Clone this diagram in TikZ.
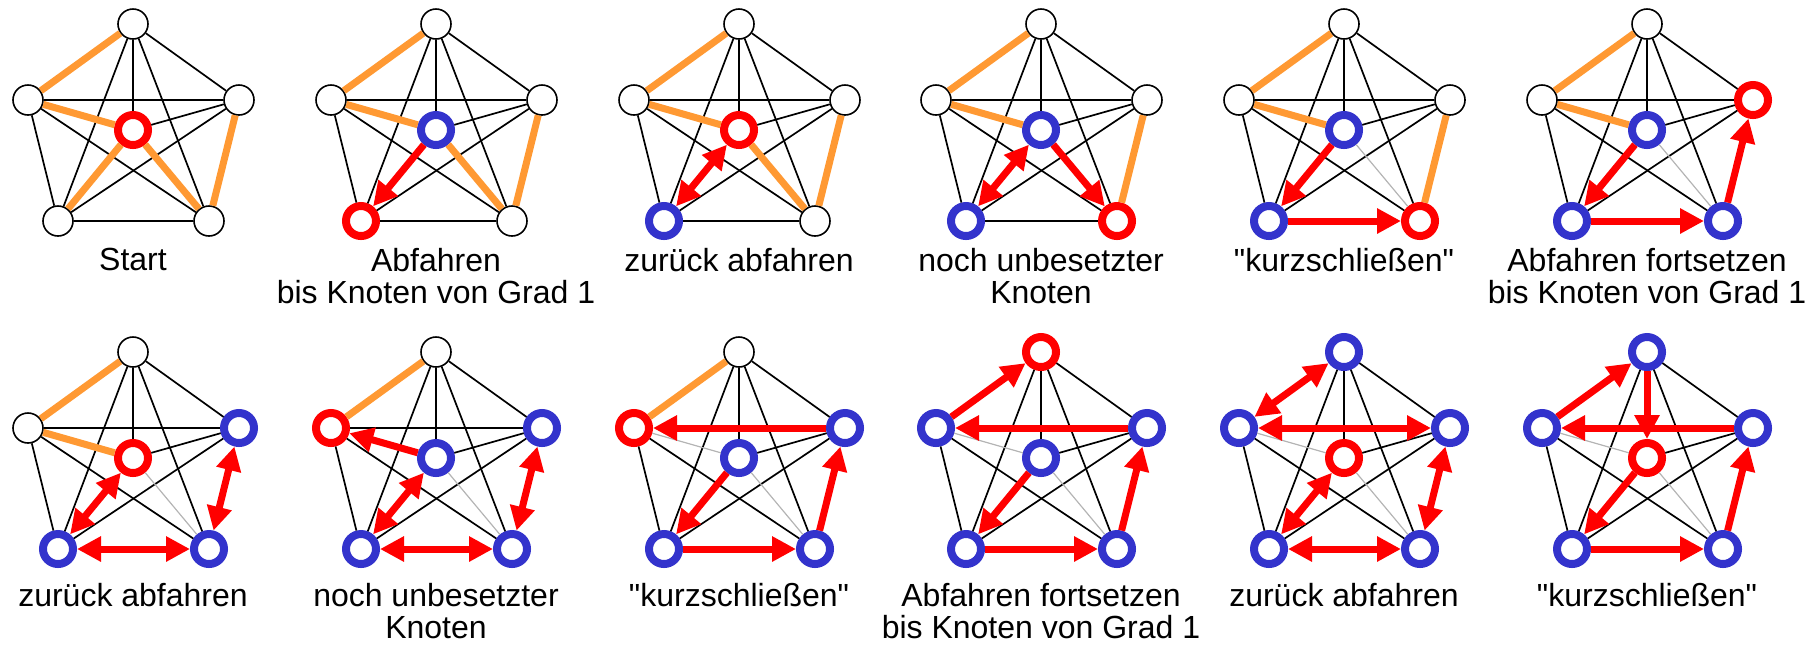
\documentclass[tikz,border=0pt]{standalone}
\usepackage{fontspec}
\setmainfont{Liberation Sans}
\usetikzlibrary{arrows.meta}
\definecolor{TreeOrange}{HTML}{FF9933}
\definecolor{SeenBlue}{HTML}{3333CC}
\definecolor{SkipGray}{HTML}{B4B4B4}

\tikzset{
  vtx/.style={circle,draw,fill=white,inner sep=0pt,minimum size=15pt,line width=0.8pt},
  fresh/.style={vtx},
  here/.style={vtx,draw=red,line width=4pt},
  seen/.style={vtx,draw=SeenBlue,line width=4pt},
  link/.style={line width=0.85pt},
  mst/.style={draw=TreeOrange,line width=3.5pt},
  shortcut/.style={draw=SkipGray,line width=0.6pt},
  walk/.style={draw=red,line width=3.5pt,-{Triangle[length=12pt,width=12pt]}},
  twoway/.style={walk,{Triangle[length=12pt,width=12pt]}-{Triangle[length=12pt,width=12pt]}},
  caption/.style={anchor=north,align=center,inner sep=0pt,font=\fontsize{16}{16}\selectfont}
}

% six vertices (top, upper left, upper right, lower left, lower right, centre)
% plus the edges that stay black in every step
\newcommand\kgraph[6]{%
  \node[#1] (t) at (0,0) {};
  \node[#2] (ul) at (-105,76) {};
  \node[#3] (ur) at (106,76) {};
  \node[#4] (ll) at (-75,197) {};
  \node[#5] (lr) at (76,197) {};
  \node[#6] (c) at (0,106) {};
  \foreach \a/\b in {t/ur,t/ll,t/lr,ul/ll,ul/lr,ur/ll,ur/c}
    \draw[link] (\a) -- (\b);
}

\begin{document}
\begin{tikzpicture}[x=0.5pt,y=-0.5pt]
\useasboundingbox (0,0) rectangle (1818,645);

% first row
\begin{scope}[shift={(133,24)},name prefix=p1-]
\kgraph{fresh}{fresh}{fresh}{fresh}{fresh}{here}
\draw[link] (t) -- (c) (ul) -- (ur) (ll) -- (lr);
\draw[mst] (t) -- (ul) (ul) -- (c) (c) -- (ll) (c) -- (lr) (ur) -- (lr);
\node[caption] (cap) at (0,224) {Start};
\end{scope}

\begin{scope}[shift={(436,24)},name prefix=p2-]
\kgraph{fresh}{fresh}{fresh}{here}{fresh}{seen}
\draw[link] (t) -- (c) (ul) -- (ur) (ll) -- (lr);
\draw[mst] (t) -- (ul) (ul) -- (c) (c) -- (lr) (ur) -- (lr);
\draw[walk] (c) -- (ll);
\node[caption] (cap) at (0,224) {Abfahren\\bis Knoten von Grad 1};
\end{scope}

\begin{scope}[shift={(739,24)},name prefix=p3-]
\kgraph{fresh}{fresh}{fresh}{seen}{fresh}{here}
\draw[link] (t) -- (c) (ul) -- (ur) (ll) -- (lr);
\draw[mst] (t) -- (ul) (ul) -- (c) (c) -- (lr) (ur) -- (lr);
\draw[twoway] (c) -- (ll);
\node[caption] (cap) at (0,224) {zurück abfahren};
\end{scope}

\begin{scope}[shift={(1041,24)},name prefix=p4-]
\kgraph{fresh}{fresh}{fresh}{seen}{here}{seen}
\draw[link] (t) -- (c) (ul) -- (ur) (ll) -- (lr);
\draw[mst] (t) -- (ul) (ul) -- (c) (ur) -- (lr);
\draw[twoway] (c) -- (ll);
\draw[walk] (c) -- (lr);
\node[caption] (cap) at (0,224) {noch unbesetzter\\Knoten};
\end{scope}

\begin{scope}[shift={(1344,24)},name prefix=p5-]
\kgraph{fresh}{fresh}{fresh}{seen}{here}{seen}
\draw[link] (t) -- (c) (ul) -- (ur);
\draw[mst] (t) -- (ul) (ul) -- (c) (ur) -- (lr);
\draw[shortcut] (c) -- (lr);
\draw[walk] (c) -- (ll);
\draw[walk] (ll) -- (lr);
\node[caption] (cap) at (0,224) {\textquotedbl kurzschließen\textquotedbl};
\end{scope}

\begin{scope}[shift={(1647,24)},name prefix=p6-]
\kgraph{fresh}{fresh}{here}{seen}{seen}{seen}
\draw[link] (t) -- (c) (ul) -- (ur);
\draw[mst] (t) -- (ul) (ul) -- (c);
\draw[shortcut] (c) -- (lr);
\draw[walk] (c) -- (ll);
\draw[walk] (ll) -- (lr);
\draw[walk] (lr) -- (ur);
\node[caption] (cap) at (0,224) {Abfahren fortsetzen\\bis Knoten von Grad 1};
\end{scope}

% second row
\begin{scope}[shift={(133,352)},name prefix=p7-]
\kgraph{fresh}{fresh}{seen}{seen}{seen}{here}
\draw[link] (t) -- (c) (ul) -- (ur);
\draw[mst] (t) -- (ul) (ul) -- (c);
\draw[shortcut] (c) -- (lr);
\draw[twoway] (c) -- (ll);
\draw[twoway] (ll) -- (lr);
\draw[twoway] (lr) -- (ur);
\node[caption] (cap) at (0,231) {zurück abfahren};
\end{scope}

\begin{scope}[shift={(436,352)},name prefix=p8-]
\kgraph{fresh}{here}{seen}{seen}{seen}{seen}
\draw[link] (t) -- (c) (ul) -- (ur);
\draw[mst] (t) -- (ul);
\draw[shortcut] (c) -- (lr);
\draw[walk] (c) -- (ul);
\draw[twoway] (c) -- (ll);
\draw[twoway] (ll) -- (lr);
\draw[twoway] (lr) -- (ur);
\node[caption] (cap) at (0,231) {noch unbesetzter\\Knoten};
\end{scope}

\begin{scope}[shift={(739,352)},name prefix=p9-]
\kgraph{fresh}{here}{seen}{seen}{seen}{seen}
\draw[link] (t) -- (c);
\draw[mst] (t) -- (ul);
\draw[shortcut] (c) -- (lr) (c) -- (ul);
\draw[walk] (c) -- (ll);
\draw[walk] (ll) -- (lr);
\draw[walk] (lr) -- (ur);
\draw[walk] (ur) -- (ul);
\node[caption] (cap) at (0,231) {\textquotedbl kurzschließen\textquotedbl};
\end{scope}

\begin{scope}[shift={(1041,352)},name prefix=p10-]
\kgraph{here}{seen}{seen}{seen}{seen}{seen}
\draw[link] (t) -- (c);
\draw[shortcut] (c) -- (lr) (c) -- (ul);
\draw[walk] (c) -- (ll);
\draw[walk] (ll) -- (lr);
\draw[walk] (lr) -- (ur);
\draw[walk] (ur) -- (ul);
\draw[walk] (ul) -- (t);
\node[caption] (cap) at (0,231) {Abfahren fortsetzen\\bis Knoten von Grad 1};
\end{scope}

\begin{scope}[shift={(1344,352)},name prefix=p11-]
\kgraph{seen}{seen}{seen}{seen}{seen}{here}
\draw[link] (t) -- (c);
\draw[shortcut] (c) -- (lr) (c) -- (ul);
\draw[twoway] (c) -- (ll);
\draw[twoway] (ll) -- (lr);
\draw[twoway] (lr) -- (ur);
\draw[twoway] (ur) -- (ul);
\draw[twoway] (ul) -- (t);
\node[caption] (cap) at (0,231) {zurück abfahren};
\end{scope}

\begin{scope}[shift={(1647,352)},name prefix=p12-]
\kgraph{seen}{seen}{seen}{seen}{seen}{here}
\draw[shortcut] (c) -- (lr) (c) -- (ul);
\draw[walk] (c) -- (ll);
\draw[walk] (ll) -- (lr);
\draw[walk] (lr) -- (ur);
\draw[walk] (ur) -- (ul);
\draw[walk] (ul) -- (t);
\draw[walk] (t) -- (c);
\node[caption] (cap) at (0,231) {\textquotedbl kurzschließen\textquotedbl};
\end{scope}
\end{tikzpicture}
\end{document}
